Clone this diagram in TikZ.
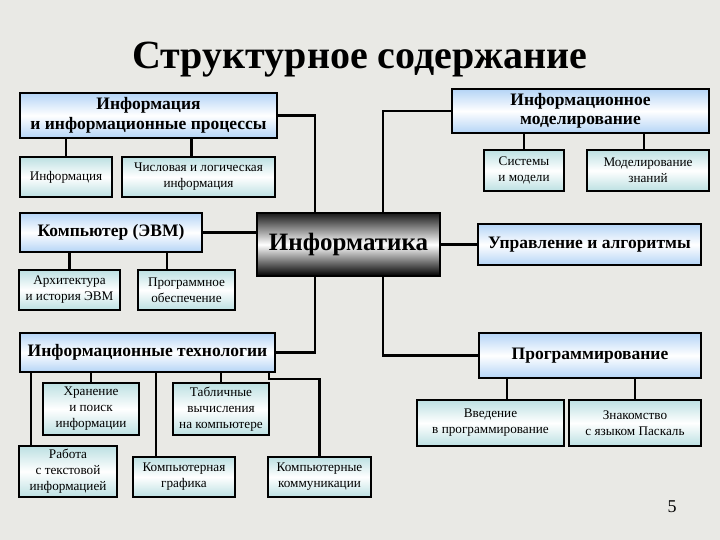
\documentclass[tikz,border=0pt]{standalone}
\usepackage{fontspec}
\setmainfont{Liberation Serif}
\usetikzlibrary{positioning}
\definecolor{paper}{RGB}{233,233,229}
\definecolor{topicblue}{RGB}{180,212,246}
\definecolor{leafteal}{RGB}{188,224,226}
\tikzset{
  topic/.style={draw, line width=2.4pt, top color=topicblue, bottom color=topicblue, middle color=white,
    align=center, inner sep=0pt, font=\bfseries\fontsize{17.5}{19.5}\selectfont},
  leaf/.style={draw, line width=2.4pt, top color=leafteal, bottom color=leafteal, middle color=white,
    align=center, inner sep=0pt, font=\fontsize{13.2}{16}\selectfont},
  core/.style={draw, line width=2.4pt, top color=black!90, bottom color=black, middle color=white,
    inner sep=0pt, font=\bfseries\fontsize{25}{28}\selectfont},
  link/.style={line width=2.4pt}
}

\begin{document}
\begin{tikzpicture}[x=1pt,y=-1pt]
    \fill[paper] (0,0) rectangle (720,540);
    \useasboundingbox (0,0) rectangle (720,540);

    \node[font=\bfseries\fontsize{40}{44}\selectfont] (title) at (360,60) {Структурное содержание};

    \node[core, minimum width=183pt, minimum height=63pt] (inf) at (348.5,244.5) {Информатика};

    \node[topic, minimum width=257pt, minimum height=45pt] (info) at (148.5,115.5) {Информация\\и информационные процессы};
    \node[leaf, minimum width=92pt, minimum height=40pt] (info1) at (66,177) {Информация};
    \node[leaf, minimum width=153pt, minimum height=40pt] (info2) at (198.5,177) {Числовая и логическая\\информация};

    \node[topic, minimum width=257pt, minimum height=44pt] (model) at (580.5,111) {Информационное\\моделирование};
    \node[leaf, minimum width=80pt, minimum height=41pt] (model1) at (524,170.5) {Системы\\и модели};
    \node[leaf, minimum width=122pt, minimum height=41pt] (model2) at (648,170.5) {Моделирование\\знаний};

    \node[topic, minimum width=182pt, minimum height=39pt] (comp) at (111,232.5) {Компьютер (ЭВМ)};
    \node[leaf, minimum width=101pt, minimum height=40pt] (comp1) at (69.5,290) {Архитектура\\и история ЭВМ};
    \node[leaf, minimum width=97pt, minimum height=40pt] (comp2) at (186.5,290) {Программное\\обеспечение};

    \node[topic, minimum width=223pt, minimum height=41pt] (alg) at (589.5,244.5) {Управление и алгоритмы};

    \node[topic, minimum width=255pt, minimum height=39pt] (tech) at (147.5,352.5) {Информационные технологии};
    \node[leaf, minimum width=96pt, minimum height=52pt] (tech1) at (91,409) {Хранение\\и поиск\\информации};
    \node[leaf, minimum width=96pt, minimum height=52pt] (tech2) at (221,409) {Табличные\\вычисления\\на компьютере};
    \node[leaf, minimum width=98pt, minimum height=51pt] (tech3) at (68,471.5) {Работа\\с текстовой\\информацией};
    \node[leaf, minimum width=102pt, minimum height=40pt] (tech4) at (184,477) {Компьютерная\\графика};
    \node[leaf, minimum width=103pt, minimum height=40pt] (tech5) at (319.5,477) {Компьютерные\\коммуникации};

    \node[topic, minimum width=222pt, minimum height=45pt] (prog) at (590,355.5) {Программирование};
    \node[leaf, minimum width=147pt, minimum height=46pt] (prog1) at (490.5,423) {Введение\\в программирование};
    \node[leaf, minimum width=132pt, minimum height=46pt] (prog2) at (635,423) {Знакомство\\с языком Паскаль};

    \node[font=\fontsize{18}{20}\selectfont] (page) at (672,507) {5};

    \coordinate (left trunk) at (315,0);
    \coordinate (right trunk) at (383,0);
    \coordinate (text drop) at (31,0);
    \coordinate (graph drop) at (156,0);
    \coordinate (soft drop) at (167,0);
    \coordinate (intro drop) at (507,0);
    \coordinate (comm drop) at (269,0);

    \draw[link] (info.east) -| (left trunk |- inf.north);
    \draw[link] (model.west) -| (right trunk |- inf.north);
    \draw[link] (comp.east) -- (comp.east -| inf.west);
    \draw[link] (inf.east) -- (alg.west);
    \draw[link] (left trunk |- inf.south) |- (tech.east);
    \draw[link] (right trunk |- inf.south) |- (prog.west);

    \draw[link] (info1.north) -- (info1.north |- info.south);
    \draw[link] ([xshift=-7pt]info2.north) -- ([xshift=-7pt]info2.north |- info.south);
    \draw[link] (model1.north) -- (model1.north |- model.south);
    \draw[link] ([xshift=-4pt]model2.north) -- ([xshift=-4pt]model2.north |- model.south);
    \draw[link] (comp1.north) -- (comp1.north |- comp.south);
    \draw[link] (soft drop |- comp2.north) -- (soft drop |- comp.south);
    \draw[link] (tech1.north) -- (tech1.north |- tech.south);
    \draw[link] (tech2.north) -- (tech2.north |- tech.south);
    \draw[link] (text drop |- tech3.north) -- (text drop |- tech.south);
    \draw[link] (graph drop |- tech4.north) -- (graph drop |- tech.south);
    \draw[link] (comm drop |- tech.south) -- ++(0,6) -| (tech5.north);
    \draw[link] (intro drop |- prog1.north) -- (intro drop |- prog.south);
    \draw[link] (prog2.north) -- (prog2.north |- prog.south);
  \end{tikzpicture}
\end{document}
